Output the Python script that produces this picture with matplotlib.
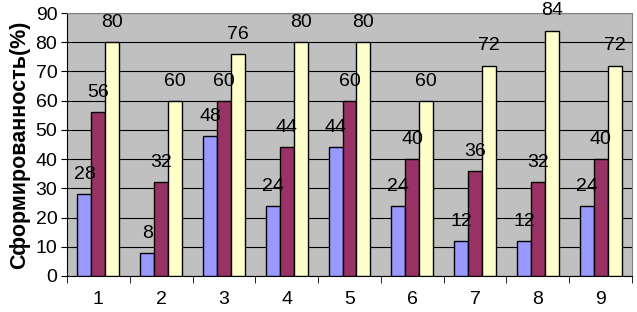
import matplotlib.pyplot as plt
import numpy as np

categories = ['1', '2', '3', '4', '5', '6', '7', '8', '9']
series_a = [28, 8, 48, 24, 44, 24, 12, 12, 24]
series_b = [56, 32, 60, 44, 60, 40, 36, 32, 40]
series_c = [80, 60, 76, 80, 80, 60, 72, 84, 72]
colors = ['#9999FF', '#993366', '#FFFFCC']

fig = plt.figure(figsize=(6.37, 3.12), dpi=100)
ax = fig.add_axes([67 / 637, 1 - 276 / 312, (632 - 67) / 637, (276 - 13) / 312])
ax.set_facecolor('#C0C0C0')

x = np.arange(len(categories))
w = 1 / 4.5
for i, (vals, c) in enumerate(zip([series_a, series_b, series_c], colors)):
    pos = x + (i - 1) * w
    ax.bar(pos, vals, width=w, color=c, edgecolor='black', linewidth=1, zorder=3)
    for p, v in zip(pos, vals):
        ax.annotate(str(v), (p, v), xytext=(0, 8), textcoords='offset points',
                    ha='center', va='bottom', fontsize=14, family='Liberation Sans',
                    annotation_clip=False, zorder=4)

ax.set_xlim(-0.5, len(categories) - 0.5)
ax.set_ylim(0, 90)
ax.set_yticks(range(0, 91, 10))
ax.yaxis.grid(True, color='black', linewidth=0.8, zorder=0)
ax.set_axisbelow(True)

ax.set_xticks(x)
ax.set_xticklabels(categories, fontsize=14, family='Liberation Sans')
ax.set_xticks(np.arange(-0.5, len(categories), 1), minor=True)
ax.tick_params(axis='x', which='major', length=0, pad=11)
ax.tick_params(axis='x', which='minor', length=5, color='black')
ax.tick_params(axis='y', length=4, labelsize=14, pad=3)
for lab in ax.get_yticklabels():
    lab.set_family('Liberation Sans')

for s in ['top', 'right']:
    ax.spines[s].set_color('#808080')
ax.spines['left'].set_color('black')
ax.spines['bottom'].set_color('black')

ax.set_ylabel('Сформированность(%)', fontsize=15.5, fontweight='bold',
              family='Liberation Sans', labelpad=4)

fig.savefig('out.png', dpi=100)
